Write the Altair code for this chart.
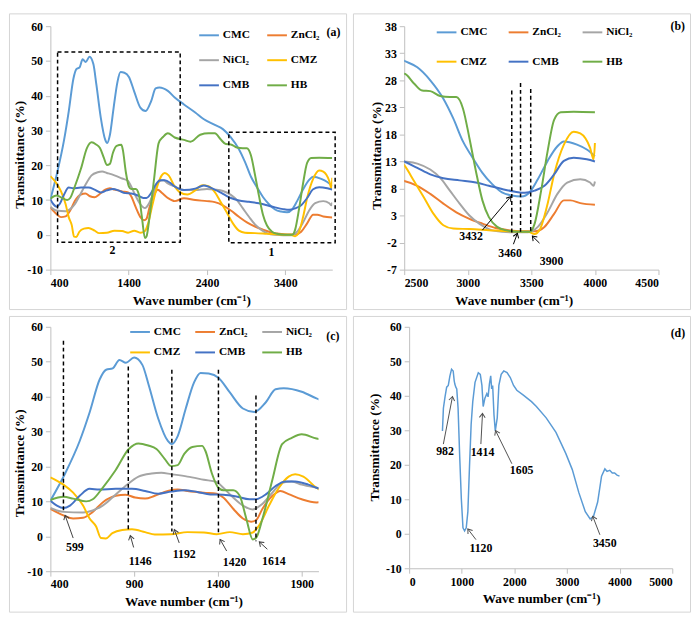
import altair as alt
import pandas as pd

FONT = "Liberation Serif"
SERIES = ["CMC", "ZnCl₂", "NiCl₂", "CMZ", "CMB", "HB"]
COLORS = ["#5B9BD5", "#ED7D31", "#A5A5A5", "#FFC000", "#4472C4", "#70AD47"]

cmc_x = [400, 488, 575, 635, 694, 733, 772, 812, 851, 900, 949, 988, 1043, 1101, 1125, 1160, 1208, 1257, 1296, 1345, 1403, 1471, 1549, 1617, 1686, 1744, 1793, 1900, 1988,
         2106, 2250, 2356, 2500, 2603, 2705, 2808, 2885, 2962, 3038, 3115, 3192, 3269, 3346, 3423, 3487, 3551, 3628, 3705, 3756, 3859, 3936, 4000]
cmc_y = [10.2, 18, 27.3, 35.6, 44.9, 47.7, 48.1, 50.5, 49.7, 51.2, 49.1, 43.1, 33.8, 27.3, 26.4, 28.7, 36.6, 44, 46.8, 46.6, 45.4, 41.2, 36.6, 35.6, 38.4, 42.1, 42.4, 41.4, 39.5,
         37.5, 35.2, 33.3, 31.6, 30.4, 28, 24.6, 21, 16.7, 13.7, 10.9, 8.8, 7.3, 6.7, 6.5, 7.3, 9.7, 13.1, 15.8, 16.7, 16.1, 15.2, 14]

zn_x = [400, 478, 536, 595, 653, 712, 790, 848, 906, 965, 1023, 1101, 1160, 1218, 1316, 1393, 1432, 1491, 1549, 1598, 1627, 1666, 1725, 1773, 1822, 1900, 1988,
        2106, 2250, 2400, 2500, 2603, 2705, 2808, 2910, 3013, 3115, 3218, 3320, 3423, 3526, 3603, 3679, 3756, 3808, 3885, 4000]
zn_y = [7.9, 6, 5.1, 5.3, 7, 9.7, 11.6, 11.9, 11.1, 10.8, 11.6, 13, 13.4, 13, 12.5, 12.2, 11.1, 7.9, 5.1, 4.2, 4.6, 7.9, 11.6, 13, 12.1, 10.6, 9.7,
        10.5, 10, 9.7, 9.4, 8.5, 7, 5.2, 3.6, 2.4, 1.5, 0.7, 0.3, 0.1, 0.1, 0.9, 3.3, 5.8, 5.8, 5.3, 5]

ni_x = [400, 478, 595, 653, 712, 770, 848, 926, 1004, 1062, 1121, 1218, 1316, 1393, 1432, 1491, 1549, 1608, 1666, 1725, 1783, 1841, 1900, 1988,
        2106, 2250, 2400, 2500, 2603, 2705, 2782, 2859, 2936, 3013, 3090, 3166, 3269, 3372, 3474, 3551, 3628, 3705, 3782, 3885, 3962, 3990, 4000]
ni_y = [8.1, 7, 6.8, 7.4, 8.8, 11.1, 14.4, 17.1, 18, 18.2, 17.8, 17.1, 16.2, 15.5, 13.9, 11.1, 8.8, 7.7, 9.3, 12.5, 15.3, 15.7, 14.8, 13.9,
        12.9, 12.9, 13.2, 13, 12.6, 11.5, 10, 7.6, 5.2, 3, 1.5, 0.5, 0, -0.1, -0.1, 0.9, 3.6, 7, 9.1, 9.7, 9.1, 8.5, 9.3]

cmz_x = [400, 478, 536, 595, 634, 673, 702, 731, 770, 829, 887, 965, 1023, 1121, 1218, 1316, 1393, 1471, 1549, 1608, 1647, 1705, 1764, 1822, 1861, 1910, 1988,
         2050, 2150, 2250, 2340, 2420, 2500, 2577, 2654, 2731, 2808, 2885, 3013, 3166, 3320, 3474, 3526, 3564, 3628, 3679, 3756, 3833, 3885, 3962, 3990, 4000]
cmz_y = [16.9, 14.8, 12.5, 8.8, 5.1, 2.8, -0.5, -0.6, 0.9, 1.8, 2, 1.2, 0.5, 0.6, 1.2, 1.1, 0.6, 1.2, 0.6, 1.1, 3.2, 8.8, 13.9, 17.1, 17.8, 17.1, 13.9,
         12.3, 11.6, 12.8, 14.3, 14, 12.3, 9.4, 6.4, 3.3, 1.2, 0.6, 0.5, 0.3, 0.1, 0, -0.4, 0.3, 5.2, 10.6, 16.1, 18.5, 18.2, 15.5, 13.4, 16.4]

cmb_x = [400, 439, 478, 517, 575, 634, 692, 790, 887, 965, 1043, 1121, 1199, 1277, 1355, 1432, 1510, 1588, 1627, 1686, 1744, 1803, 1861, 1939, 1988,
         2106, 2250, 2360, 2500, 2603, 2705, 2808, 2936, 3064, 3166, 3269, 3372, 3449, 3526, 3603, 3679, 3756, 3833, 3936, 4000]
cmb_y = [10.2, 8.8, 8.1, 8.8, 11.6, 13.6, 13.4, 13.6, 13.6, 13, 12.2, 12.8, 13.2, 12.7, 12, 11.9, 11.4, 10.6, 10.6, 12, 14.4, 15.7, 15.7, 14.8, 13.9,
         12.9, 13.3, 14.2, 13, 11.8, 10.6, 9.9, 9.5, 9.1, 8.5, 7.9, 7.4, 7.2, 7.6, 8.5, 10.6, 13.1, 13.7, 13.4, 13]

hb_x = [400, 478, 536, 614, 653, 712, 790, 868, 926, 984, 1033, 1082, 1121, 1160, 1199, 1247, 1306, 1325, 1364, 1403, 1432, 1491, 1530, 1569, 1608, 1627, 1666, 1725, 1783, 1841, 1900, 1988,
        2106, 2190, 2314, 2420, 2500, 2577, 2641, 2705, 2782, 2859, 2910, 2962, 3013, 3064, 3115, 3166, 3231, 3295, 3397, 3487, 3526, 3577, 3628, 3679, 3731, 3833, 4000]
hb_y = [10.4, 11.3, 10.8, 10, 10.6, 13.9, 19, 25, 26.6, 26, 25, 22.2, 20.1, 20.4, 23.6, 25.6, 25.9, 24.5, 18, 13.9, 13.2, 13.2, 11.6, 5.1, -0.9, -0.5, 5.1, 16.2, 26.4, 28.2, 29.2, 28,
        27.3, 26.8, 28.8, 29.2, 29.2, 27.4, 26.1, 26, 25.1, 24.9, 24.9, 22.8, 17.3, 11.2, 5.8, 2.7, 0.9, 0.3, 0, 0, 1.5, 7.6, 14.9, 20.7, 22.1, 22.2, 22.1]

d_x = [633, 651, 682, 713, 744, 775, 806, 837, 856, 868, 887, 905, 930, 961, 992, 1023, 1054, 1085, 1116, 1147, 1178, 1209, 1252, 1314, 1352, 1383, 1407,
       1438, 1476, 1500, 1525, 1550, 1568, 1587, 1612, 1637, 1674, 1705, 1749, 1798, 1860, 1922, 1984, 2046, 2170, 2325, 2418, 2604, 2790, 2976,
       3100, 3223, 3347, 3440, 3502, 3582, 3656, 3719, 3760, 3812, 3860, 3904, 3950, 3997]
d_y = [29.8, 36.4, 39.7, 42.5, 43, 45.8, 47.7, 47.2, 44.4, 43.4, 42.5, 42, 36.4, 22.3, 10.1, 1.7, 0.8, 1.7, 6.4, 19.5, 31.7, 38.3, 43.9, 46.7, 46.2, 43, 36.9,
       39.2, 40.6, 39.7, 43.4, 45.8, 42, 43, 34.5, 29.8, 33.6, 43, 46.2, 47.2, 46.7, 45.3, 43, 41.6, 40.2, 38.3, 36.9, 33.6, 29.4, 23.3,
       18.6, 12, 6.4, 4.3, 5, 9.2, 16.7, 18.8, 18.1, 18.4, 17.6, 17.6, 17.0, 16.7]

rows = []
for name, xs, ys in [("CMC", cmc_x, cmc_y), ("ZnCl₂", zn_x, zn_y), ("NiCl₂", ni_x, ni_y),
                     ("CMZ", cmz_x, cmz_y), ("CMB", cmb_x, cmb_y), ("HB", hb_x, hb_y)]:
    for xv, yv in zip(xs, ys):
        rows.append({"x": xv, "y": yv, "s": name})
lines_df = pd.DataFrame(rows)
d_df = pd.DataFrame({"x": d_x, "y": d_y})

# annotations
a_box_x = [492, 2679]
a_box_x2 = [2058, 4037]
a_box_y = [-2.1, -2.3]
a_box_y2 = [52.6, 29.5]
a_lab_x = [1192, 3225]
a_lab_y = [-4.3, -4.9]
a_lab_t = ["2", "1"]

b_dash_x = [3346, 3415, 3495]
b_dash_top = [26.1, 27.5, 26.4]
b_dash_bot = [-0.3, -0.3, -0.3]
b_arr_tail_x = [3115, 3359, 3564]
b_arr_tail_y = [0.3, -2.3, -2.1]
b_arr_tip_x = [3338, 3390, 3508]
b_arr_tip_y = [6.5, -0.3, -0.8]
b_arr_ang = [35.5, 20.6, 316.3]
b_lab_x = [3026, 3333, 3659]
b_lab_y = [-0.8, -4.0, -5.5]
b_lab_t = ["3432", "3460", "3900"]

c_dash_x = [478, 865, 1125, 1403, 1627]
c_dash_top = [56, 48.6, 47.7, 47.7, 40.3]
c_dash_bot = [7.2, 1.4, 1.4, 0.5, -1.4]
c_arr_tail_x = [536, 897, 1169, 1452, 1695]
c_arr_tail_y = [-0.5, -3.2, -1.9, -4.2, -3.7]
c_arr_tip_x = [488, 877, 1140, 1413, 1647]
c_arr_tip_y = [6.0, 0.2, 1.9, -0.9, -1.6]
c_arr_ang = [340.3, 344.9, 339.4, 330.3, 312.6]
c_lab_x = [546, 936, 1199, 1500, 1734]
c_lab_y = [-3.0, -7.0, -5.1, -7.4, -7.0]
c_lab_t = ["599", "1146", "1192", "1420", "1614"]

d_arr_tail_x = [650, 1363, 1952, 1270, 3625]
d_arr_tail_y = [26, 26, 20.3, -1.7, -0.3]
d_arr_tip_x = [824, 1394, 1642, 1115, 3488]
d_arr_tip_y = [39.8, 34.9, 29.9, 1.4, 5.1]
d_arr_ang = [10.7, 3.0, 333.9, 322.9, 339.2]
d_lab_x = [682, 1394, 2138, 1363, 3717]
d_lab_y = [24.1, 23.6, 18.4, -4.1, -2.7]
d_lab_t = ["982", "1414", "1605", "1120", "3450"]

panel_tags = ["(a)", "(b)", "(c)", "(d)"]
tag_x = [4015, 4652, 2086, 5106]
tag_y = [58.4, 38, 57.4, 58.2]


def make_enc(xdom, xticks, ydom, yticks, xtx, ytx, yty):
    def X(field="x"):
        return alt.X(f"{field}:Q", scale=alt.Scale(domain=xdom, nice=False, zero=False),
                     axis=alt.Axis(values=xticks, title="Wave number (cm⁻¹)", labelExpr="datum.value + ''",
                                   titleX=xtx, titleY=24))

    def Y(field="y"):
        return alt.Y(f"{field}:Q", scale=alt.Scale(domain=ydom, nice=False, zero=False),
                     axis=alt.Axis(values=yticks, title="Transmittance (%)", labelExpr="datum.value + ''",
                                   titleX=ytx, titleY=yty, titleBaseline="middle", labelOverlap=False))
    return X, Y


def frame(W, H, L, R, T, B):
    return alt.Chart(pd.DataFrame({"k": [0]})).mark_rect(
        fill="transparent", stroke="#D4D4D4", strokeWidth=1).encode(
        x=alt.value(-L + 0.5), x2=alt.value(W + R - 0.5),
        y=alt.value(-T + 0.5), y2=alt.value(H + B - 0.5))


def text_layer(X, Y, xs, ys, ts, size=12):
    df = pd.DataFrame({"x": xs, "y": ys, "t": ts})
    return alt.Chart(df).mark_text(font=FONT, fontWeight="bold", fontSize=size, color="#000",
                                   baseline="middle", align="center").encode(x=X(), y=Y(), text="t:N")


def arrows(X, Y, tx, ty, hx, hy, ang, color):
    df = pd.DataFrame({"x": tx, "y": ty, "x2": hx, "y2": hy, "a": ang})
    r = alt.Chart(df).mark_rule(color=color, strokeWidth=1).encode(
        x=X(), y=Y(), x2=alt.X2("x2:Q"), y2=alt.Y2("y2:Q"))
    h = alt.Chart(df).mark_point(shape="M -0.7 1 L 0 0 L 0.7 1", filled=False, color=color,
                                 strokeWidth=1, size=70, opacity=1).encode(
        x=X("x2"), y=Y("y2"), angle=alt.Angle("a:Q", scale=None))
    return [r, h]


def dashes(X, Y, xs, tops, bots):
    df = pd.DataFrame({"x": xs, "y": tops, "y2": bots})
    return alt.Chart(df).mark_rule(color="#000", strokeWidth=1.5, strokeDash=[4, 3]).encode(
        x=X(), y=Y(), y2=alt.Y2("y2:Q"))


def lines(X, Y, legend):
    return alt.Chart(lines_df).mark_line(interpolate="monotone", strokeWidth=2, clip=True).encode(
        x=X(), y=Y(),
        color=alt.Color("s:N", scale=alt.Scale(domain=SERIES, range=COLORS), sort=SERIES, legend=legend))


def leg(lx, ly, cols, rp, cp):
    return alt.Legend(title=None, orient="none", legendX=lx, legendY=ly, columns=cols, direction="horizontal",
                      symbolType="stroke", symbolSize=400, symbolStrokeWidth=2,
                      labelFont=FONT, labelFontWeight="bold", labelFontSize=11.5, labelColor="#000",
                      rowPadding=rp, columnPadding=cp, labelOffset=3, padding=0)


# Panel (a)
W, H, L, R, T, B = 286, 247, 42, 15, 13, 41
Xa, Ya = make_enc([400, 4000], [400, 1400, 2400, 3400], [-10, 60], list(range(-10, 61, 10)), W / 2, -31, 130)
boxes = alt.Chart(pd.DataFrame({"x": a_box_x, "x2": a_box_x2, "y": a_box_y, "y2": a_box_y2})).mark_rect(
    fill="transparent", stroke="#000", strokeWidth=1.5, strokeDash=[4, 3]).encode(
    x=Xa(), x2=alt.X2("x2:Q"), y=Ya(), y2=alt.Y2("y2:Q"))
pa = alt.layer(
    frame(W, H, L, R, T, B),
    lines(Xa, Ya, leg(150, -2, 2, 8.5, 13)),
    boxes,
    text_layer(Xa, Ya, a_lab_x, a_lab_y, a_lab_t),
    text_layer(Xa, Ya, [tag_x[0]], [tag_y[0]], [panel_tags[0]]),
).properties(width=W, height=H)

# Panel (b)
W, H, L, R, T, B = 258, 247, 52, 33, 13, 41
Xb, Yb = make_enc([2500, 4500], [2500, 3000, 3500, 4000, 4500], [-7, 38], list(range(-7, 39, 5)), 111, -28, 131)
pb = alt.layer(
    frame(W, H, L, R, T, B),
    lines(Xb, Yb, leg(32, -5, 3, 13, 17)),
    dashes(Xb, Yb, b_dash_x, b_dash_top, b_dash_bot),
    *arrows(Xb, Yb, b_arr_tail_x, b_arr_tail_y, b_arr_tip_x, b_arr_tip_y, b_arr_ang, "#000"),
    text_layer(Xb, Yb, b_lab_x, b_lab_y, b_lab_t),
    text_layer(Xb, Yb, [tag_x[1]], [tag_y[1]], [panel_tags[1]]),
).properties(width=W, height=H)

# Panel (c)
W, H, L, R, T, B = 272, 248, 42, 29, 11, 42
Xc, Yc = make_enc([400, 2000], [400, 900, 1400, 1900], [-10, 60], list(range(-10, 61, 10)), 135, -31, 138)
pc = alt.layer(
    frame(W, H, L, R, T, B),
    lines(Xc, Yc, leg(80, -6, 3, 4, 10)),
    dashes(Xc, Yc, c_dash_x, c_dash_top, c_dash_bot),
    *arrows(Xc, Yc, c_arr_tail_x, c_arr_tail_y, c_arr_tip_x, c_arr_tip_y, c_arr_ang, "#404040"),
    text_layer(Xc, Yc, c_lab_x, c_lab_y, c_lab_t),
    text_layer(Xc, Yc, [tag_x[2]], [tag_y[2]], [panel_tags[2]]),
).properties(width=W, height=H)

# Panel (d)
W, H, L, R, T, B = 267, 245, 57, 19, 11, 45
Xd, Yd = make_enc([0, 5000], [0, 1000, 2000, 3000, 4000, 5000], [-10, 60], list(range(-10, 61, 10)), 134, -35, 122)
dline = alt.Chart(d_df).mark_line(color="#5B9BD5", strokeWidth=1.5).encode(x=Xd(), y=Yd())
pd_ = alt.layer(
    frame(W, H, L, R, T, B),
    dline,
    *arrows(Xd, Yd, d_arr_tail_x, d_arr_tail_y, d_arr_tip_x, d_arr_tip_y, d_arr_ang, "#505050"),
    text_layer(Xd, Yd, d_lab_x, d_lab_y, d_lab_t),
    text_layer(Xd, Yd, [tag_x[3]], [tag_y[3]], [panel_tags[3]]),
).properties(width=W, height=H)

top = alt.hconcat(pa, pb, spacing=4).resolve_scale(color="independent").resolve_legend(color="independent")
bottom = alt.hconcat(pc, pd_, spacing=4).resolve_scale(color="independent").resolve_legend(color="independent")

chart = alt.vconcat(top, bottom, spacing=4).resolve_scale(color="independent").resolve_legend(
    color="independent").properties(padding=0, background="#FFFFFF").configure_axis(
    labelFont=FONT, labelFontSize=12, labelFontWeight="bold", labelColor="#000",
    titleFont=FONT, titleFontSize=13.5, titleFontWeight="bold", titleColor="#000",
    domainColor="#BFBFBF", tickColor="#BFBFBF", tickSize=5, grid=False, labelPadding=3,
).configure_view(stroke="transparent")

chart.save("out.html", embed_options={"renderer": "svg", "actions": False})
